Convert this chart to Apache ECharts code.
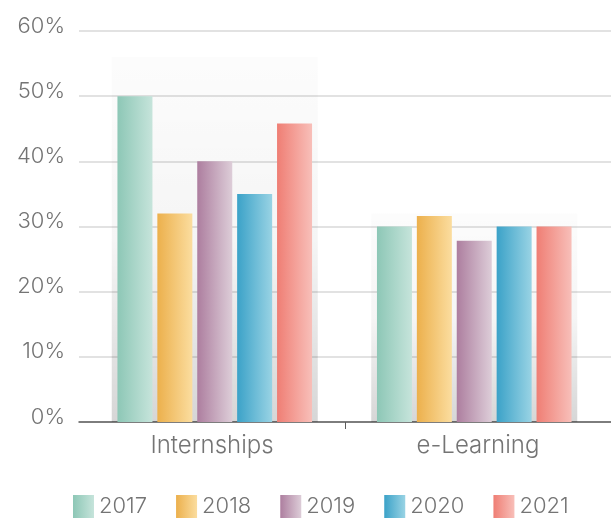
<!DOCTYPE html>
<html>
<head>
<meta charset="utf-8">
<script src="https://cdn.jsdelivr.net/npm/echarts@6/dist/echarts.min.js"></script>
<style>
  html, body { margin: 0; padding: 0; background: #fff; }
  #chart { width: 611px; height: 518px; }
</style>
</head>
<body>
<div id="chart"></div>
<script>
// Share of students (%) by programme and year
const categories = ['Internships', 'e-Learning'];
const years = ['2017', '2018', '2019', '2020', '2021'];
const values2017 = [50, 30];
const values2018 = [32, 31.6];
const values2019 = [40, 27.8];
const values2020 = [35, 30];
const values2021 = [45.8, 30];
// Height of the soft panel behind each group of bars
const backdropTop = [56, 32];
const yTicks = [0, 10, 20, 30, 40, 50, 60];

const yearValues = [values2017, values2018, values2019, values2020, values2021];
const palette = [
  ['#8dc7b6', '#c6e4db'],
  ['#ecb04c', '#fbdd9f'],
  ['#ad7e9f', '#ddcdd8'],
  ['#3ba2c8', '#99d3e4'],
  ['#ef7e74', '#f8bfb9']
];

const FONT = 'Inter';
const TEXT = '#747474';

function hGrad(c) {
  return new echarts.graphic.LinearGradient(0, 0, 1, 0, [
    { offset: 0, color: c[0] },
    { offset: 1, color: c[1] }
  ]);
}

const chart = echarts.init(document.getElementById('chart'), null, { renderer: 'canvas' });

const barSeries = years.map((y, i) => ({
  name: y,
  type: 'bar',
  xAxisIndex: 1,
  yAxisIndex: 1,
  barWidth: 35,
  barGap: '14%',
  z: 3,
  data: yearValues[i],
  itemStyle: { color: hGrad(palette[i]) },
  emphasis: { disabled: true }
}));

const option = {
  animation: false,
  backgroundColor: '#fff',
  grid: [
    { left: 79, right: 0, top: 31, bottom: 96 },
    { left: 85, right: 7, top: 31, bottom: 96 }
  ],
  legend: {
    data: years,
    left: 73,
    top: 495,
    padding: 0,
    itemWidth: 21,
    itemHeight: 23,
    itemGap: 29,
    icon: 'rect',
    textStyle: { fontFamily: FONT, fontWeight: 300, fontSize: 22, color: TEXT }
  },
  xAxis: [
    {
      gridIndex: 0,
      type: 'category',
      data: categories,
      axisLine: { lineStyle: { color: '#5c5c5c', width: 1.5 } },
      axisTick: { show: false },
      axisLabel: { fontFamily: FONT, fontWeight: 300, fontSize: 24, color: TEXT, margin: 12 },
      splitLine: { show: false }
    },
    { gridIndex: 1, type: 'category', data: categories, show: false },
    { gridIndex: 1, type: 'category', data: categories, show: false },
    {
      // divider tick between the two categories
      gridIndex: 0,
      type: 'value',
      position: 'bottom',
      offset: 0,
      min: 0,
      max: 2,
      axisLine: { show: false },
      axisLabel: { show: false },
      splitLine: { show: false },
      axisTick: { show: true, inside: false, length: 7, customValues: [1], lineStyle: { color: '#5c5c5c' } }
    }
  ],
  yAxis: [
    {
      gridIndex: 0,
      type: 'value',
      min: yTicks[0],
      max: yTicks[yTicks.length - 1],
      interval: 10,
      axisLine: { show: false },
      axisTick: { show: false },
      axisLabel: {
        formatter: '{value}%',
        fontFamily: FONT, fontWeight: 300, fontSize: 22, color: TEXT,
        margin: 14,
        verticalAlign: 'bottom',
        lineHeight: 10
      },
      splitLine: { lineStyle: { color: '#d9d9d9', width: 1.5 } }
    },
    { gridIndex: 1, type: 'value', min: 0, max: 60, show: false, splitLine: { show: false } }
  ],
  series: [
    {
      name: 'backdrop',
      type: 'bar',
      xAxisIndex: 2,
      yAxisIndex: 1,
      barWidth: 206,
      z: 1,
      silent: true,
      data: backdropTop,
      itemStyle: {
        color: new echarts.graphic.LinearGradient(0, 0, 0, 1, [
          { offset: 0, color: 'rgba(0,0,0,0.01)' },
          { offset: 0.5, color: 'rgba(0,0,0,0.04)' },
          { offset: 1, color: 'rgba(0,0,0,0.16)' }
        ])
      }
    }
  ].concat(barSeries)
};

chart.setOption(option);
</script>
</body>
</html>
